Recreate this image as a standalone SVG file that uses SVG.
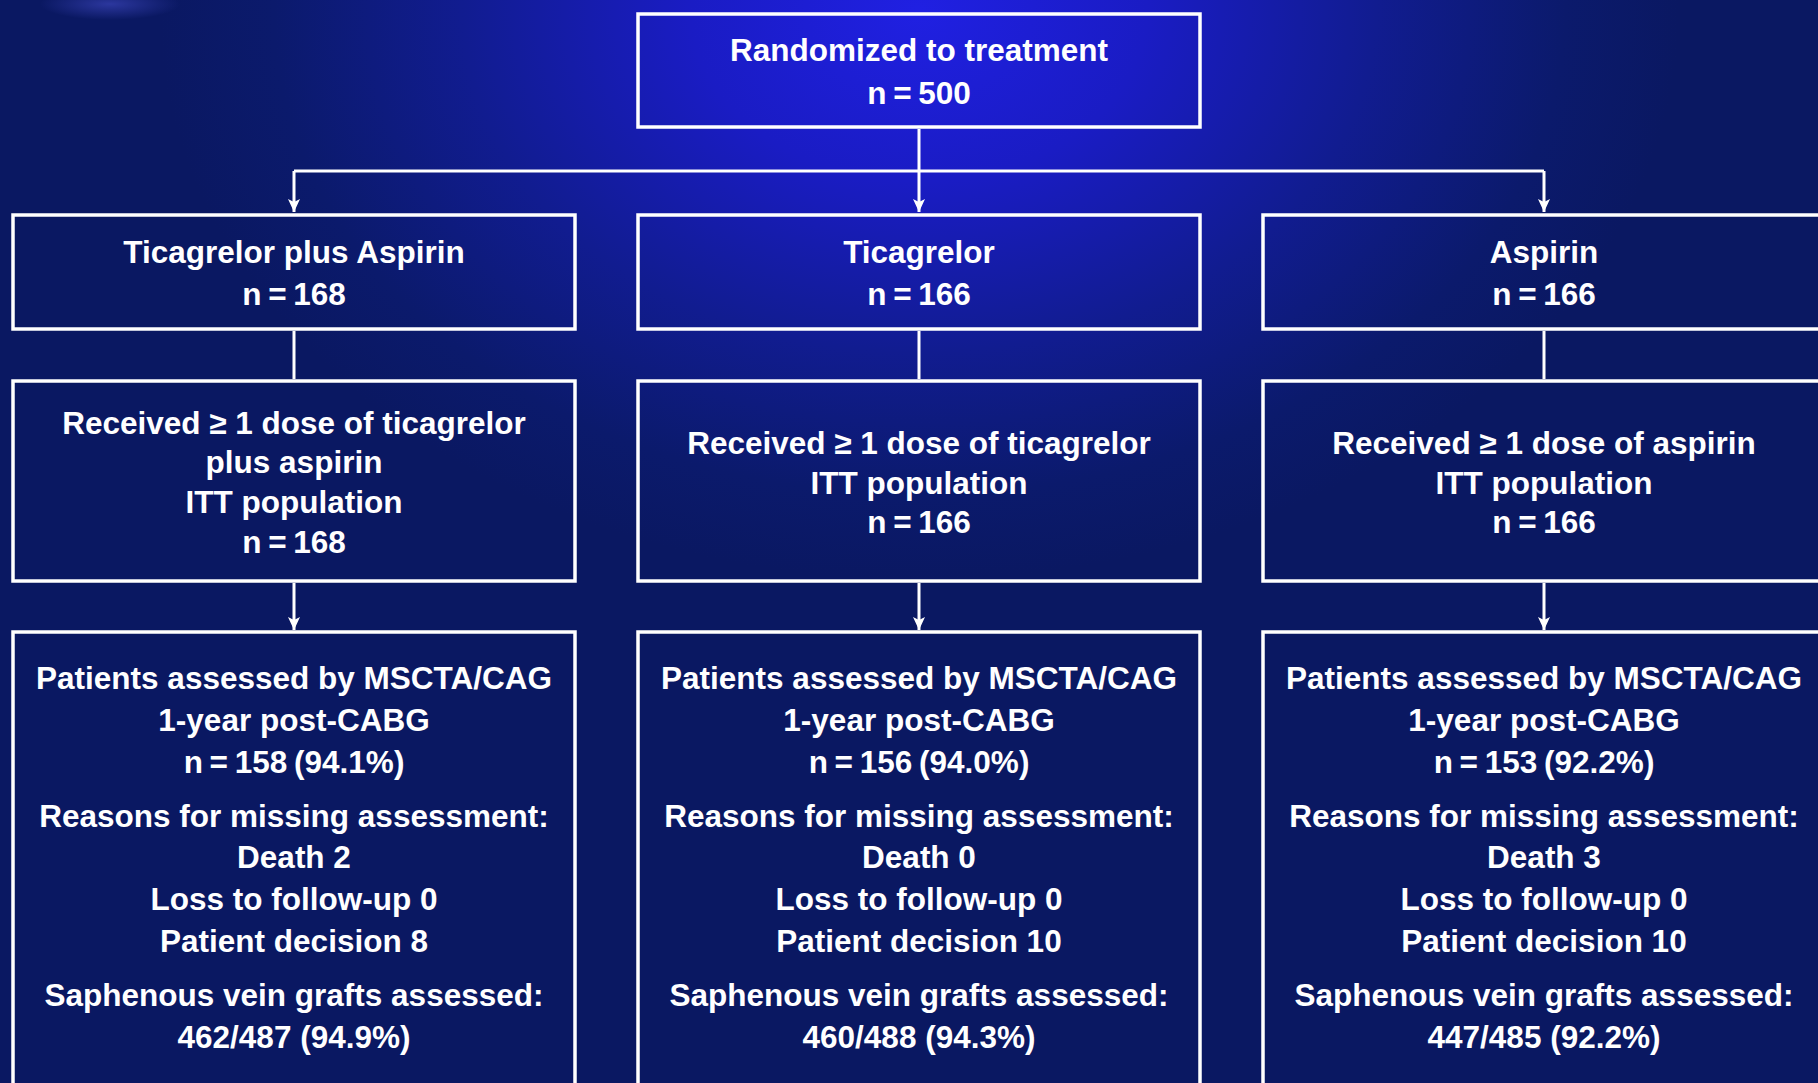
<svg xmlns="http://www.w3.org/2000/svg" width="1818" height="1083" viewBox="0 0 1818 1083">
  <defs>
    <radialGradient id="bg" gradientUnits="userSpaceOnUse" cx="919" cy="10" r="760" gradientTransform="translate(919 10) scale(1 0.75) translate(-919 -10)">
      <stop offset="0" stop-color="#2020e2"/>
      <stop offset="0.3" stop-color="#1a1cc4"/>
      <stop offset="0.6" stop-color="#111c90"/>
      <stop offset="0.85" stop-color="#0b1a6c"/>
      <stop offset="1" stop-color="#0a1862"/>
    </radialGradient>
    <radialGradient id="glow" cx="0.5" cy="0.5" r="0.5">
      <stop offset="0" stop-color="#3a44b8" stop-opacity="0.7"/>
      <stop offset="1" stop-color="#3a44b8" stop-opacity="0"/>
    </radialGradient>
    <marker id="arrow" markerUnits="userSpaceOnUse" viewBox="0 -6 13 12" refX="13" refY="0" markerWidth="13" markerHeight="12" orient="auto">
      <path d="M0,-6 L13,0 L0,6 L3,0 z" fill="#ffffff"/>
    </marker>
    <style>
      .box { fill: none; stroke: #ffffff; stroke-width: 3.5; }
      .t { font-family: "Liberation Sans", Arial, sans-serif; font-weight: bold; font-size: 31.5px; fill: #ffffff; text-anchor: middle; }
      .n { word-spacing: -2px; }
      .c { stroke: #ffffff; stroke-width: 3; fill: none; }
    </style>
  </defs>
  <rect x="0" y="0" width="1818" height="1083" fill="url(#bg)"/>
  <ellipse cx="110" cy="4" rx="70" ry="16" fill="url(#glow)"/>

  <g id="connectors">
    <line class="c" x1="919" y1="129" x2="919" y2="212" marker-end="url(#arrow)"/>
    <line class="c" x1="294" y1="171" x2="1544" y2="171"/>
    <line class="c" x1="294" y1="171" x2="294" y2="212" marker-end="url(#arrow)"/>
    <line class="c" x1="1544" y1="171" x2="1544" y2="212" marker-end="url(#arrow)"/>
    <line class="c" x1="294" y1="331" x2="294" y2="379"/>
    <line class="c" x1="919" y1="331" x2="919" y2="379"/>
    <line class="c" x1="1544" y1="331" x2="1544" y2="379"/>
    <line class="c" x1="294" y1="583" x2="294" y2="630" marker-end="url(#arrow)"/>
    <line class="c" x1="919" y1="583" x2="919" y2="630" marker-end="url(#arrow)"/>
    <line class="c" x1="1544" y1="583" x2="1544" y2="630" marker-end="url(#arrow)"/>
  </g>

  <g id="randomized">
    <rect class="box" x="638" y="14" width="562" height="113"/>
    <text class="t" x="919" y="61">Randomized to treatment</text>
    <text class="t n" x="919" y="104">n = 500</text>
  </g>

  <g id="arm-ticagrelor-aspirin">
    <rect class="box" x="13" y="215" width="562" height="114"/>
    <text class="t" x="294" y="263">Ticagrelor plus Aspirin</text>
    <text class="t n" x="294" y="305">n = 168</text>
  </g>
  <g id="arm-ticagrelor">
    <rect class="box" x="638" y="215" width="562" height="114"/>
    <text class="t" x="919" y="263">Ticagrelor</text>
    <text class="t n" x="919" y="305">n = 166</text>
  </g>
  <g id="arm-aspirin">
    <rect class="box" x="1263" y="215" width="562" height="114"/>
    <text class="t" x="1544" y="263">Aspirin</text>
    <text class="t n" x="1544" y="305">n = 166</text>
  </g>

  <g id="itt-ticagrelor-aspirin">
    <rect class="box" x="13" y="381" width="562" height="200"/>
    <text class="t" x="294" y="434">Received ≥ 1 dose of ticagrelor</text>
    <text class="t" x="294" y="473">plus aspirin</text>
    <text class="t" x="294" y="513">ITT population</text>
    <text class="t n" x="294" y="552.5">n = 168</text>
  </g>
  <g id="itt-ticagrelor">
    <rect class="box" x="638" y="381" width="562" height="200"/>
    <text class="t" x="919" y="454">Received ≥ 1 dose of ticagrelor</text>
    <text class="t" x="919" y="493.5">ITT population</text>
    <text class="t n" x="919" y="533">n = 166</text>
  </g>
  <g id="itt-aspirin">
    <rect class="box" x="1263" y="381" width="562" height="200"/>
    <text class="t" x="1544" y="454">Received ≥ 1 dose of aspirin</text>
    <text class="t" x="1544" y="493.5">ITT population</text>
    <text class="t n" x="1544" y="533">n = 166</text>
  </g>

  <g id="assessed-ticagrelor-aspirin">
    <rect class="box" x="13" y="632" width="562" height="480"/>
    <text class="t" x="294" y="689">Patients assessed by MSCTA/CAG</text>
    <text class="t" x="294" y="730.5">1-year post-CABG</text>
    <text class="t n" x="294" y="772.5">n = 158 (94.1%)</text>
    <text class="t" x="294" y="826.5">Reasons for missing assessment:</text>
    <text class="t" x="294" y="868">Death 2</text>
    <text class="t" x="294" y="910">Loss to follow-up 0</text>
    <text class="t" x="294" y="952">Patient decision 8</text>
    <text class="t" x="294" y="1006">Saphenous vein grafts assessed:</text>
    <text class="t" x="294" y="1048">462/487 (94.9%)</text>
  </g>
  <g id="assessed-ticagrelor">
    <rect class="box" x="638" y="632" width="562" height="480"/>
    <text class="t" x="919" y="689">Patients assessed by MSCTA/CAG</text>
    <text class="t" x="919" y="730.5">1-year post-CABG</text>
    <text class="t n" x="919" y="772.5">n = 156 (94.0%)</text>
    <text class="t" x="919" y="826.5">Reasons for missing assessment:</text>
    <text class="t" x="919" y="868">Death 0</text>
    <text class="t" x="919" y="910">Loss to follow-up 0</text>
    <text class="t" x="919" y="952">Patient decision 10</text>
    <text class="t" x="919" y="1006">Saphenous vein grafts assessed:</text>
    <text class="t" x="919" y="1048">460/488 (94.3%)</text>
  </g>
  <g id="assessed-aspirin">
    <rect class="box" x="1263" y="632" width="562" height="480"/>
    <text class="t" x="1544" y="689">Patients assessed by MSCTA/CAG</text>
    <text class="t" x="1544" y="730.5">1-year post-CABG</text>
    <text class="t n" x="1544" y="772.5">n = 153 (92.2%)</text>
    <text class="t" x="1544" y="826.5">Reasons for missing assessment:</text>
    <text class="t" x="1544" y="868">Death 3</text>
    <text class="t" x="1544" y="910">Loss to follow-up 0</text>
    <text class="t" x="1544" y="952">Patient decision 10</text>
    <text class="t" x="1544" y="1006">Saphenous vein grafts assessed:</text>
    <text class="t" x="1544" y="1048">447/485 (92.2%)</text>
  </g>
</svg>
